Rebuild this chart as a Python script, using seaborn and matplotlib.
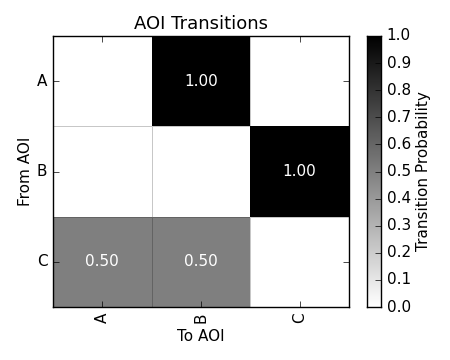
import numpy as np
import pandas as pd
import matplotlib
matplotlib.use("Agg")
import matplotlib.pyplot as plt
import seaborn as sns

aois = ["A", "B", "C"]
row_A = [0.0, 1.0, 0.0]
row_B = [0.0, 0.0, 1.0]
row_C = [0.5, 0.5, 0.0]
cbar_ticks = [0.0, 0.1, 0.2, 0.3, 0.4, 0.5, 0.6, 0.7, 0.8, 0.9, 1.0]

plt.style.use("classic")
plt.rcParams["font.family"] = ["DejaVu Sans"]

df = pd.DataFrame([row_A, row_B, row_C], index=aois, columns=aois)
labels = df.map(lambda v: f"{v:.2f}" if v > 0 else "")

fig = plt.figure(figsize=(4.5, 3.6), dpi=100, facecolor="white")
ax = fig.add_axes([53/450, 1-307/360, 296/450, 271/360])
cax = fig.add_axes([367/450, 1-307/360, 14/450, 271/360])

sns.heatmap(df, ax=ax, cbar_ax=cax, cmap="binary", vmin=0, vmax=1,
            annot=labels.values, fmt="", annot_kws={"color": "white", "fontsize": 11},
            linewidths=0.6, linecolor=(0, 0, 0, 0.22),
            cbar_kws={"ticks": cbar_ticks})

ax.set_title("AOI Transitions", fontsize=13)
ax.set_xlabel("To AOI", fontsize=11, labelpad=4)
ax.set_ylabel("From AOI", fontsize=11, labelpad=3)
ax.set_xticklabels(aois, rotation=90, fontsize=11)
ax.set_yticklabels(aois, rotation=0, fontsize=11)
ax.tick_params(direction="in", top=True, right=True, length=4)
for s in ax.spines.values():
    s.set_visible(True)
    s.set_color("black")
    s.set_linewidth(1)

cax.tick_params(labelsize=11, direction="in", length=4)
cax.set_yticklabels([f"{t:.1f}" for t in cbar_ticks])
cax.set_ylabel("Transition Probability", fontsize=11, labelpad=4)
for s in cax.spines.values():
    s.set_visible(True)
    s.set_color("black")

fig.savefig("out.png", dpi=100, facecolor="white")
